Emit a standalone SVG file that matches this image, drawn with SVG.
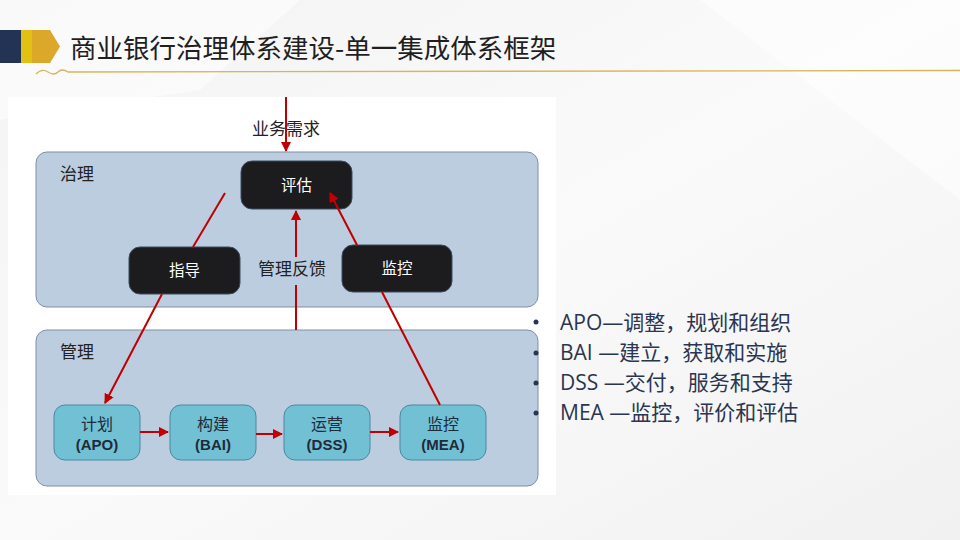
<svg xmlns="http://www.w3.org/2000/svg" width="960" height="540" viewBox="0 0 960 540">
<defs>
<linearGradient id="bg" x1="0" y1="0" x2="1" y2="1">
<stop offset="0" stop-color="#f3f3f3"/><stop offset="0.5" stop-color="#fafafa"/><stop offset="1" stop-color="#f1f1f1"/>
</linearGradient>
<marker id="ah" viewBox="0 0 10 10" refX="9" refY="5" markerWidth="5" markerHeight="5" orient="auto-start-reverse" markerUnits="strokeWidth">
<path d="M0,0 L10,5 L0,10 z" fill="#c00000"/>
</marker>
<style>
.title{font-family:"Noto Sans CJK SC","Noto Sans",sans-serif;font-size:26.5px;fill:#1f1f1f}
.grp{fill:#bccde0;stroke:#7f8fa6;stroke-width:1}
.blk{fill:#1c1c1e;stroke:#3a4a60;stroke-width:1}
.blu{fill:#72c0d4;stroke:#4a88a0;stroke-width:1}
.wt{font-family:"Noto Sans CJK SC",sans-serif;font-size:15.5px;fill:#ffffff;text-anchor:middle}
.bt{font-family:"Noto Sans CJK SC",sans-serif;font-size:16px;fill:#1f2a3a;text-anchor:middle}
.bb{font-family:"Liberation Sans","Noto Sans CJK SC",sans-serif;font-size:15px;font-weight:bold;fill:#1f2a3a;text-anchor:middle}
.lbl{font-family:"Noto Sans CJK SC",sans-serif;font-size:17px;fill:#222}
.con{stroke:#c00000;stroke-width:2;fill:none}
.bul{font-family:"Open Sans","Noto Sans CJK SC",sans-serif;font-size:21px;fill:#2a3550}
</style>
</defs>
<rect width="960" height="540" fill="url(#bg)"/>
<polygon points="0,0 300,0 200,90 0,120" fill="#ffffff" opacity="0.5"/>
<polygon points="700,0 960,0 960,200" fill="#ffffff" opacity="0.5"/>
<g id="title">
<rect x="0" y="30" width="21" height="33" fill="#233354"/>
<rect x="21" y="30" width="11" height="33" fill="#e2c112"/>
<polygon points="32,30 50,30 60,46.5 50,63 32,63" fill="#dca82a"/>
<text x="70" y="58" class="title">商业银行治理体系建设-单一集成体系框架</text>
<path d="M36,74 Q42,68 48,72 T58,72 T68,72 L960,70.5" fill="none" stroke="#d9b45a" stroke-width="1.3"/>
</g>
<rect x="8" y="97" width="548" height="398" fill="#ffffff"/>
<g id="governance"><rect x="36" y="152" width="502" height="155" rx="11" class="grp"/><text x="60" y="180" class="lbl">治理</text></g>
<g id="management"><rect x="36" y="330" width="502" height="156" rx="11" class="grp"/><text x="60" y="358" class="lbl">管理</text></g>
<g id="n-evaluate"><rect x="241" y="161" width="111" height="48" rx="11" class="blk"/><text x="296.5" y="191" class="wt">评估</text></g>
<g id="n-direct"><rect x="129" y="247" width="111" height="47" rx="11" class="blk"/><text x="184.5" y="276" class="wt">指导</text></g>
<g id="n-monitor"><rect x="342" y="245" width="110" height="47" rx="11" class="blk"/><text x="397" y="274" class="wt">监控</text></g>
<g id="n-apo"><rect x="54" y="405" width="86" height="55" rx="11" class="blu"/><text x="97" y="430" class="bt">计划</text><text x="97" y="450" class="bb">(APO)</text></g>
<g id="n-bai"><rect x="170" y="405" width="86" height="55" rx="11" class="blu"/><text x="213" y="430" class="bt">构建</text><text x="213" y="450" class="bb">(BAI)</text></g>
<g id="n-dss"><rect x="284" y="405" width="86" height="55" rx="11" class="blu"/><text x="327" y="430" class="bt">运营</text><text x="327" y="450" class="bb">(DSS)</text></g>
<g id="n-mea"><rect x="400" y="405" width="86" height="55" rx="11" class="blu"/><text x="443" y="430" class="bt">监控</text><text x="443" y="450" class="bb">(MEA)</text></g>
<text x="286" y="135" class="lbl" text-anchor="middle">业务需求</text>
<text x="292" y="275" class="lbl" text-anchor="middle" font-size="16">管理反馈</text>
<g id="connectors">
<line x1="286" y1="97" x2="286" y2="151" class="con" stroke-width="2.5" marker-end="url(#ah)"/>
<line x1="296" y1="330" x2="296" y2="285" class="con" stroke-width="2.5"/>
<line x1="296" y1="257" x2="296" y2="211" class="con" stroke-width="2.5" marker-end="url(#ah)"/>
<line x1="193" y1="247" x2="225" y2="193" class="con"/>
<line x1="162" y1="294" x2="105" y2="403" class="con" marker-end="url(#ah)"/>
<line x1="440" y1="405" x2="382" y2="292" class="con"/>
<line x1="357" y1="245" x2="330" y2="193" class="con" marker-end="url(#ah)"/>
<line x1="140" y1="432" x2="168" y2="432" class="con" stroke-width="2.5" marker-end="url(#ah)"/>
<line x1="256" y1="434" x2="282" y2="434" class="con" stroke-width="2.5" marker-end="url(#ah)"/>
<line x1="370" y1="432" x2="398" y2="432" class="con" stroke-width="2.5" marker-end="url(#ah)"/>
</g>
<g id="legend">
<circle cx="536" cy="322" r="2.5" fill="#2a3550"/>
<circle cx="536" cy="353" r="2.5" fill="#2a3550"/>
<circle cx="536" cy="383" r="2.5" fill="#2a3550"/>
<circle cx="536" cy="413" r="2.5" fill="#2a3550"/>
<text x="560" y="330" class="bul">APO—调整，规划和组织</text>
<text x="560" y="360" class="bul">BAI —建立，获取和实施</text>
<text x="560" y="390" class="bul">DSS —交付，服务和支持</text>
<text x="560" y="420" class="bul">MEA —监控，评价和评估</text>
</g>
</svg>
